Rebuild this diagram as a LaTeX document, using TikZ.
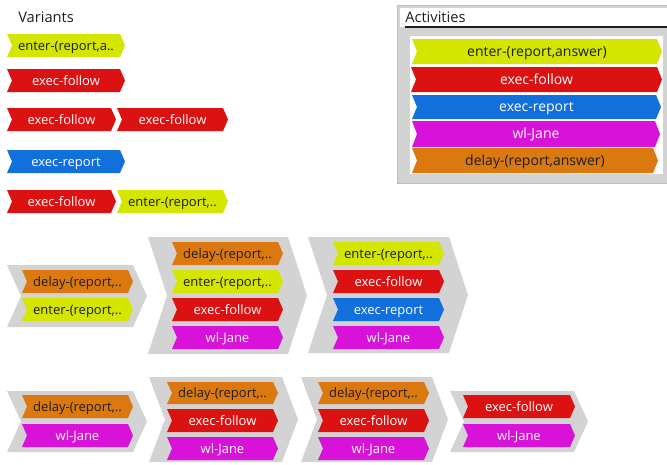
\documentclass[tikz,border=0pt]{standalone}
\usepackage{fontspec}
\setmainfont{Open Sans}
\definecolor{cEnter}{RGB}{212,230,0}
\definecolor{cFollow}{RGB}{220,18,18}
\definecolor{cReport}{RGB}{18,112,220}
\definecolor{cJane}{RGB}{216,18,216}
\definecolor{cDelay}{RGB}{220,120,16}
\definecolor{cGray}{RGB}{211,211,211}
\definecolor{cBorder}{RGB}{190,190,190}
\definecolor{cDark}{RGB}{30,30,30}
\tikzset{
  stEnter/.style={fill=cEnter,text=cDark},
  stFollow/.style={fill=cFollow,text=white},
  stReport/.style={fill=cReport,text=white},
  stJane/.style={fill=cJane,text=white},
  stDelay/.style={fill=cDelay,text=cDark},
  stGroup/.style={fill=cGray},
  lbl/.style={inner sep=0pt,text height=0.7em,text depth=0pt,font=\fontsize{9.75pt}{11pt}\selectfont},
  biglbl/.style={inner sep=0pt,text height=0.7em,text depth=0pt,font=\fontsize{10.5pt}{12pt}\selectfont},
  title/.style={inner sep=0pt,text=cDark,font=\fontsize{11pt}{13pt}\selectfont},
}
% chevron with label: [label style]{name}{x1}{y1}{x2}{y2}{depth}{style}{text}
\newcommand{\chv}[9][lbl]{%
  \fill[#8] (#3,#4) -- ({#5-#7},#4) -- (#5,{(#4+#6)/2}) -- ({#5-#7},#6) -- (#3,#6) -- ({#3+#7},{(#4+#6)/2}) -- cycle;
  \node[#1,#8,fill=none] (#2) at ({(#3+#5)/2},{(#4+#6)/2}) {#9};
}
% grey group chevron: {x1}{y1}{x2}{y2}{depth}
\newcommand{\grpshape}[5]{%
  \fill[stGroup] (#1,#2) -- ({#3-#5},#2) -- (#3,{(#2+#4)/2}) -- ({#3-#5},#4) -- (#1,#4) -- ({#1+#5},{(#2+#4)/2}) -- cycle;
}
\begin{document}
\begin{tikzpicture}[x=0.75pt,y=-0.75pt]
\useasboundingbox (0,0) rectangle (667,464);
\fill[white] (0,0) rectangle (667,464);

% ---------- Variants ----------
\node[title,anchor=base west] (tVar) at (18,22.5) {Variants};
\chv{v1}{7}{34}{125}{57}{5}{stEnter}{enter-(report,a..}
\chv{v2}{7}{69}{125}{92}{5}{stFollow}{exec-follow}
\chv{v3a}{7}{108}{116}{131}{5}{stFollow}{exec-follow}
\chv{v3b}{117}{108}{228}{131}{5}{stFollow}{exec-follow}
\chv{v4}{7}{150}{125}{173}{5}{stReport}{exec-report}
\chv{v5a}{7}{190}{116}{213}{5}{stFollow}{exec-follow}
\chv{v5b}{117}{190}{228}{213}{5}{stEnter}{enter-(report,..}

% ---------- Activities ----------
\fill[cGray,draw=cBorder,line width=0.75pt] (397,5) rectangle (667,183);
\fill[white] (400,8) rectangle (667,27);
\draw[cDark,line width=0.9pt] (405,27) -- (667,27);
\node[title,anchor=base west] (tAct) at (405,22) {Activities};
\fill[white] (410,36) rectangle (663,174);
\chv[biglbl]{a1}{412}{39}{662}{64}{5}{stEnter}{enter-(report,answer)}
\chv[biglbl]{a2}{411}{67}{662}{92}{5}{stFollow}{exec-follow}
\chv[biglbl]{a3}{412}{95}{661}{119}{5}{stReport}{exec-report}
\chv[biglbl]{a4}{412}{121}{660}{147}{5}{stJane}{wl-Jane}
\chv[biglbl]{a5}{412}{148}{658}{173}{5}{stDelay}{delay-(report,answer)}

% ---------- Row A ----------
\grpshape{7}{265}{147}{327}{14}
\chv{ra1a}{22}{270}{133}{293}{5}{stDelay}{delay-(report,..}
\chv{ra1b}{22}{298}{133}{321}{5}{stEnter}{enter-(report,..}

\grpshape{148}{237}{307}{354}{19}
\chv{ra2a}{172}{242}{283}{265}{5}{stDelay}{delay-(report,..}
\chv{ra2b}{172}{270}{283}{293}{5}{stEnter}{enter-(report,..}
\chv{ra2c}{172}{298}{283}{321}{5}{stFollow}{exec-follow}
\chv{ra2d}{172}{326}{283}{349}{5}{stJane}{wl-Jane}

\grpshape{308}{237}{468}{353}{19}
\chv{ra3a}{333}{242}{444}{265}{5}{stEnter}{enter-(report,..}
\chv{ra3b}{333}{270}{444}{293}{5}{stFollow}{exec-follow}
\chv{ra3c}{333}{298}{444}{321}{5}{stReport}{exec-report}
\chv{ra3d}{333}{326}{444}{349}{5}{stJane}{wl-Jane}

% ---------- Row B ----------
\grpshape{7}{391}{147}{452}{14}
\chv{rb1a}{22}{395}{133}{418}{5}{stDelay}{delay-(report,..}
\chv{rb1b}{22}{424}{133}{447}{5}{stJane}{wl-Jane}

\grpshape{149}{377}{298}{462}{16}
\chv{rb2a}{167}{382}{278}{404}{5}{stDelay}{delay-(report,..}
\chv{rb2b}{167}{409}{278}{432}{5}{stFollow}{exec-follow}
\chv{rb2c}{167}{437}{278}{460}{5}{stJane}{wl-Jane}

\grpshape{301}{377}{448}{462}{16}
\chv{rb3a}{318}{382}{429}{404}{5}{stDelay}{delay-(report,..}
\chv{rb3b}{318}{409}{429}{432}{5}{stFollow}{exec-follow}
\chv{rb3c}{318}{437}{429}{460}{5}{stJane}{wl-Jane}

\grpshape{450}{391}{588}{452}{14}
\chv{rb4a}{463}{395}{575}{418}{5}{stFollow}{exec-follow}
\chv{rb4b}{463}{424}{575}{447}{5}{stJane}{wl-Jane}
\end{tikzpicture}
\end{document}
